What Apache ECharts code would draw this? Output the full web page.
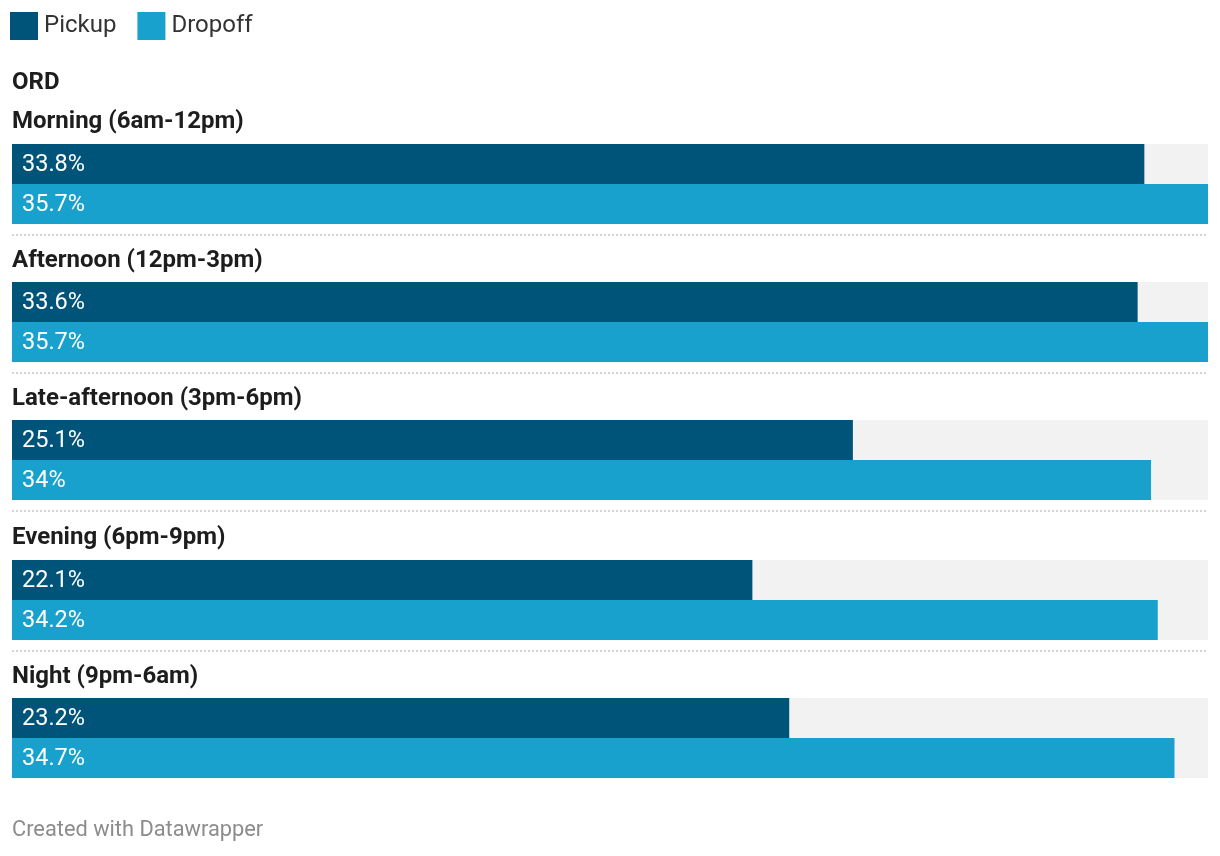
<!DOCTYPE html>
<html>
<head>
<meta charset="utf-8">
<style>
  html, body { margin: 0; padding: 0; background: #fff; }
  #chart { width: 1220px; height: 856px; }
</style>
<script src="https://cdn.jsdelivr.net/npm/echarts@6/dist/echarts.min.js"></script>
</head>
<body>
<div id="chart"></div>
<script>
const chartTitle = 'ORD';
const periods = ['Morning (6am-12pm)', 'Afternoon (12pm-3pm)', 'Late-afternoon (3pm-6pm)', 'Evening (6pm-9pm)', 'Night (9pm-6am)'];
const seriesNames = ['Pickup', 'Dropoff'];
const pickup = [33.8, 33.6, 25.1, 22.1, 23.2];
const dropoff = [35.7, 35.7, 34, 34.2, 34.7];
const footer = 'Created with Datawrapper';

const FONT = 'Roboto';
const colors = ['#00547a', '#18a1cd'];
const barTops = [144, 282, 420, 560, 698];
const titleCenters = [122, 261, 399, 538, 677];
const sepYs = [235, 373, 511, 651];
const xMax = Math.max(...pickup, ...dropoff);

const chart = echarts.init(document.getElementById('chart'), null, { renderer: 'canvas' });

const grids = [], xAxes = [], yAxes = [], series = [];
const titles = [{
  text: chartTitle, left: 12, top: 83 - 15, padding: 0,
  textStyle: { fontFamily: FONT, fontSize: 24, fontWeight: 'bold', color: '#1d1d1d', lineHeight: 30 }
}];

periods.forEach((p, i) => {
  grids.push({ left: 12, right: 12, top: barTops[i], height: 80, containLabel: false });
  xAxes.push({ type: 'value', gridIndex: i, min: 0, max: xMax, show: false });
  yAxes.push({ type: 'category', gridIndex: i, data: seriesNames, inverse: true, show: false });
  titles.push({
    text: p, left: 12, top: titleCenters[i] - 15, padding: 0,
    textStyle: { fontFamily: FONT, fontSize: 24, fontWeight: 'bold', color: '#1d1d1d', lineHeight: 30 }
  });
  [pickup, dropoff].forEach((arr, k) => {
    series.push({
      name: seriesNames[k],
      type: 'bar',
      xAxisIndex: i, yAxisIndex: i,
      data: k === 0 ? [arr[i], '-'] : ['-', arr[i]],
      barWidth: 40,
      barGap: '-100%',
      itemStyle: { color: colors[k] },
      showBackground: true,
      backgroundStyle: { color: '#f2f2f2' },
      label: {
        show: true, position: 'insideLeft', distance: 10, offset: [0, 1.5],
        color: '#ffffff', fontFamily: FONT, fontSize: 23.5,
        formatter: (d) => d.value + '%'
      },
      animation: false,
      silent: true
    });
  });
});

const graphics = sepYs.map(y => ({
  type: 'line',
  shape: { x1: 12, y1: y, x2: 1208, y2: y },
  style: { stroke: '#d4d4d4', lineWidth: 2, lineDash: [2, 2] },
  silent: true
}));
graphics.push({
  type: 'text', left: 12, top: 831 - 13,
  style: { text: footer, fontFamily: FONT, fontSize: 21.8, fill: '#8c8c8c', lineHeight: 26 }
});

chart.setOption({
  animation: false,
  title: titles,
  legend: {
    data: seriesNames,
    left: 10, top: 12, padding: 0,
    itemWidth: 28, itemHeight: 28, itemGap: 21,
    icon: 'rect',
    selectedMode: false,
    textStyle: { fontFamily: FONT, fontSize: 24, color: '#333333', padding: [3, 0, 0, 1] }
  },
  grid: grids,
  xAxis: xAxes,
  yAxis: yAxes,
  series: series,
  graphic: graphics
});
</script>
</body>
</html>
